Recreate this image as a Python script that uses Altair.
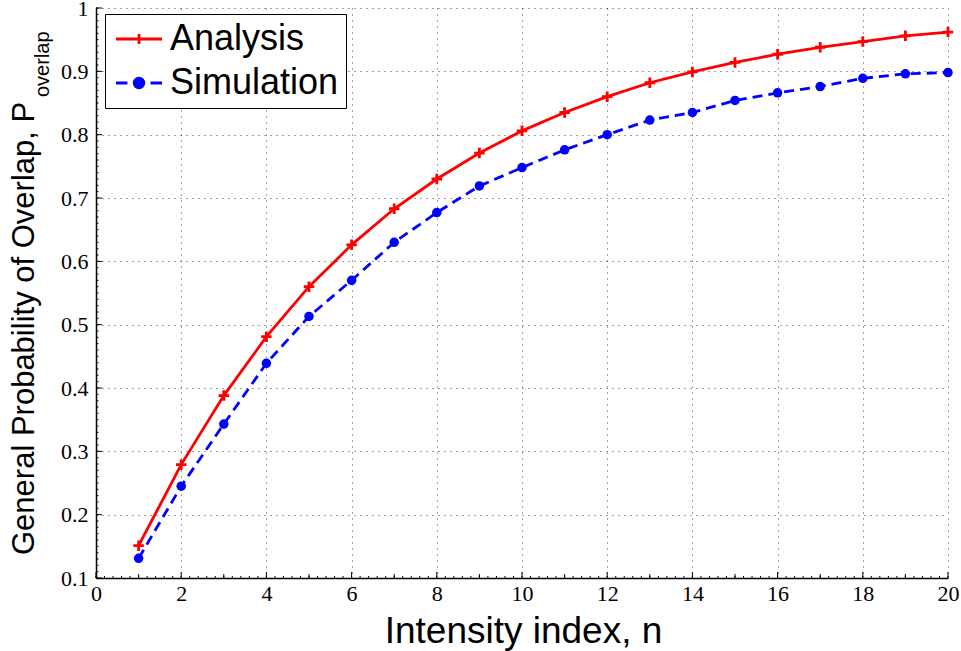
import altair as alt
import numpy as np
import pandas as pd

# ---------------- data ----------------
n_values = list(range(1, 21))
analysis = [0.151, 0.279, 0.388, 0.481, 0.560, 0.626, 0.683, 0.730, 0.771, 0.806,
            0.835, 0.860, 0.882, 0.899, 0.914, 0.927, 0.938, 0.947, 0.956, 0.962]
simulation = [0.131, 0.245, 0.343, 0.439, 0.513, 0.570, 0.630, 0.677, 0.719, 0.748,
              0.776, 0.800, 0.823, 0.835, 0.854, 0.866, 0.876, 0.889, 0.896, 0.898]
series_names = ["Analysis", "Simulation"]
x_title = "Intensity index, n"
y_title_main = "General Probability of Overlap, P"
y_title_sub = "overlap"
x_tick_values = list(range(0, 21, 2))
y_tick_values = [round(0.1 * i, 1) for i in range(1, 11)]

# ---------------- styling ----------------
W, H = 852, 570
RED, BLUE = "#ff0000", "#0000ff"
series_colors = [RED, BLUE]
PLUS = "M-1,0H1M0,-1V1"
LEG_ANALYSIS = "M-1.44,0H1.44M0,-0.32V0.32"
LEG_SIM = ("M-1.44,0H-0.72M0.72,0H1.44"
           "M0.3,0A0.3,0.3 0 1,1 -0.3,0A0.3,0.3 0 1,1 0.3,0Z")

df = pd.DataFrame({
    "n": n_values * 2,
    "p": analysis + simulation,
    "series": [series_names[0]] * len(analysis) + [series_names[1]] * len(simulation),
})

xs = alt.Scale(domain=[0, 20], nice=False, zero=False)
ys = alt.Scale(domain=[0.1, 1], nice=False, zero=False)

axis_common = dict(
    grid=True, gridColor="#000000", gridOpacity=0.75, gridDash=[1, 5], gridWidth=1,
    ticks=False, domainColor="#000000", domainWidth=1.5, title=None,
    labelFont="Liberation Serif", labelFontSize=22, labelColor="#000000",
    labelFlush=False, labelOverlap=False, labelBound=False,
)
x_axis = alt.Axis(values=x_tick_values, labelPadding=5, **axis_common)
y_axis = alt.Axis(values=y_tick_values, labelPadding=8,
                  labelExpr="datum.value >= 1 ? '1' : format(datum.value, '.1f')",
                  **axis_common)

X = alt.X("n:Q", scale=xs, axis=x_axis)
Y = alt.Y("p:Q", scale=ys, axis=y_axis)

base = alt.Chart(df)
red_line = base.transform_filter(alt.datum.series == series_names[0]).mark_line(
    strokeWidth=2.8, color=RED).encode(x=X, y=Y)
blue_line = base.transform_filter(alt.datum.series == series_names[1]).mark_line(
    strokeWidth=2.8, color=BLUE, strokeDash=[10, 6]).encode(x=X, y=Y)

red_pts = base.transform_filter(alt.datum.series == series_names[0]).mark_point(
    shape=PLUS, size=110, color=RED, strokeWidth=2.8, filled=False, opacity=1
).encode(x=X, y=Y)
blue_pts = base.transform_filter(alt.datum.series == series_names[1]).mark_point(
    shape="circle", size=90, color=BLUE, filled=True, opacity=1
).encode(x=X, y=Y)

leg_def = alt.Legend(
    title=None, orient="none", legendX=9, legendY=6,
    symbolSize=1024, symbolStrokeWidth=2.8, symbolOffset=9, symbolOpacity=1,
    labelFont="Liberation Sans", labelFontSize=36, labelColor="#000000", labelOffset=13,
    labelLimit=400, rowPadding=8, padding=7,
    strokeColor="#000000", fillColor="#ffffff",
)
legend_layer = base.transform_filter("false").mark_point(
    filled=True, strokeWidth=2.8, opacity=1
).encode(
    x=X, y=Y,
    shape=alt.Shape("series:N", scale=alt.Scale(domain=series_names, range=[LEG_ANALYSIS, LEG_SIM]), legend=leg_def),
    fill=alt.Fill("series:N", scale=alt.Scale(domain=series_names, range=series_colors), legend=leg_def),
    stroke=alt.Stroke("series:N", scale=alt.Scale(domain=series_names, range=series_colors), legend=leg_def),
)

# ticks drawn inward, like the original axes
x_ticks_small = pd.DataFrame({"n": np.round(np.arange(0, 20.001, 0.2), 1)})
x_ticks_mid = pd.DataFrame({"n": list(range(1, 20, 2))})
x_ticks_big = pd.DataFrame({"n": x_tick_values})
y_ticks_small = pd.DataFrame({"p": np.round(np.arange(0.1, 1.0001, 0.01), 2)})
y_ticks_big = pd.DataFrame({"p": y_tick_values})

def xtick(d, length):
    return alt.Chart(d).mark_rule(color="black", strokeWidth=1).encode(
        x=X, y=alt.value(H), y2=alt.value(H - length))

def ytick(d, length):
    return alt.Chart(d).mark_rule(color="black", strokeWidth=1).encode(
        y=Y, x=alt.value(0), x2=alt.value(length))

xt = alt.Chart(pd.DataFrame({"t": [x_title]})).mark_text(
    font="Liberation Sans", fontSize=37, color="black", align="center", baseline="alphabetic"
).encode(text="t:N", x=alt.value(427.5), y=alt.value(635))

yt = alt.Chart(pd.DataFrame({"t": [y_title_main]})).mark_text(
    font="Liberation Sans", fontSize=31, color="black", align="left", baseline="alphabetic", angle=270
).encode(text="t:N", x=alt.value(-62), y=alt.value(547))

yts = alt.Chart(pd.DataFrame({"t": [y_title_sub]})).mark_text(
    font="Liberation Sans", fontSize=20, color="black", align="left", baseline="alphabetic", angle=270
).encode(text="t:N", x=alt.value(-47), y=alt.value(89))

chart = alt.layer(
    red_line, blue_line,
    xtick(x_ticks_small, 2), xtick(x_ticks_mid, 4), xtick(x_ticks_big, 6),
    ytick(y_ticks_small, 2.5), ytick(y_ticks_big, 6),
    red_pts, blue_pts, legend_layer, xt, yt, yts,
).properties(
    width=W, height=H,
    autosize=alt.AutoSizeParams(type="none"),
    padding={"left": 96, "top": 8, "right": 13, "bottom": 73},
    background="white",
).configure_view(stroke=None)

chart.save("out.html", embed_options={"renderer": "svg", "actions": False})
